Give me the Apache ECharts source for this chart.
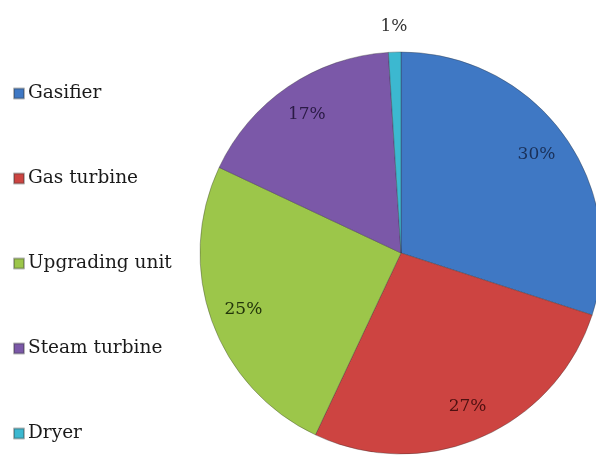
<!DOCTYPE html>
<html><head><meta charset="utf-8">
<script src="https://cdn.jsdelivr.net/npm/echarts@6/dist/echarts.min.js"></script>
<style>html,body{margin:0;padding:0;background:#fff}#c{width:596px;height:468px}</style>
</head><body><div id="c"></div>
<script>
const categories = ['Gasifier', 'Gas turbine', 'Upgrading unit', 'Steam turbine', 'Dryer'];
const values = [30, 27, 25, 17, 1];
const colors = ['#3f78c4', '#cd4441', '#9cc64a', '#7b58a8', '#3cb8d0'];
const labelColors = ['#1a3058', '#4e1010', '#22340a', '#2a1a44', '#333333'];
const outsideLabel = [false, false, false, false, true];

const chart = echarts.init(document.getElementById('c'), null, {renderer: 'canvas'});
const font = '"DejaVu Serif", "Liberation Serif", serif';
const baseData = categories.map((n, i) => ({
  name: n, value: values[i],
  itemStyle: {color: colors[i]}
}));
const innerLabelData = categories.map((n, i) => ({
  name: n, value: values[i],
  label: {show: !outsideLabel[i], color: labelColors[i]}
}));
const outerLabelData = categories.map((n, i) => ({
  name: n, value: values[i],
  label: {show: outsideLabel[i], color: labelColors[i]}
}));
chart.setOption({
  animation: false,
  legend: {
    orient: 'vertical', left: 8, top: 79,
    itemWidth: 10, itemHeight: 10, itemGap: 66,
    icon: 'rect',
    textStyle: {fontFamily: font, fontSize: 18.5, lineHeight: 18, color: '#1a1a1a', padding: [0,0,0,-1]},
    data: categories
  },
  series: [{
    type: 'pie', center: [401, 253], radius: [0, 201],
    startAngle: 90, clockwise: true, silent: true,
    itemStyle: {borderColor: 'rgba(50,50,50,0.35)', borderWidth: 1},
    label: {show: false}, labelLine: {show: false},
    data: baseData
  }, {
    type: 'pie', center: [401, 253], radius: [128, 201],
    startAngle: 90, clockwise: true, silent: true,
    itemStyle: {color: 'rgba(0,0,0,0)'},
    legendHoverLink: false,
    label: {show: true, position: 'inside', formatter: '{c}%', fontFamily: font, fontSize: 17},
    labelLine: {show: false},
    data: innerLabelData
  }, {
    type: 'pie', center: [401, 253], radius: [212, 236],
    startAngle: 90, clockwise: true, silent: true,
    itemStyle: {color: 'rgba(0,0,0,0)'},
    legendHoverLink: false,
    label: {show: true, position: 'inside', formatter: '{c}%', fontFamily: font, fontSize: 17},
    labelLine: {show: false},
    data: outerLabelData
  }]
});
</script></body></html>
